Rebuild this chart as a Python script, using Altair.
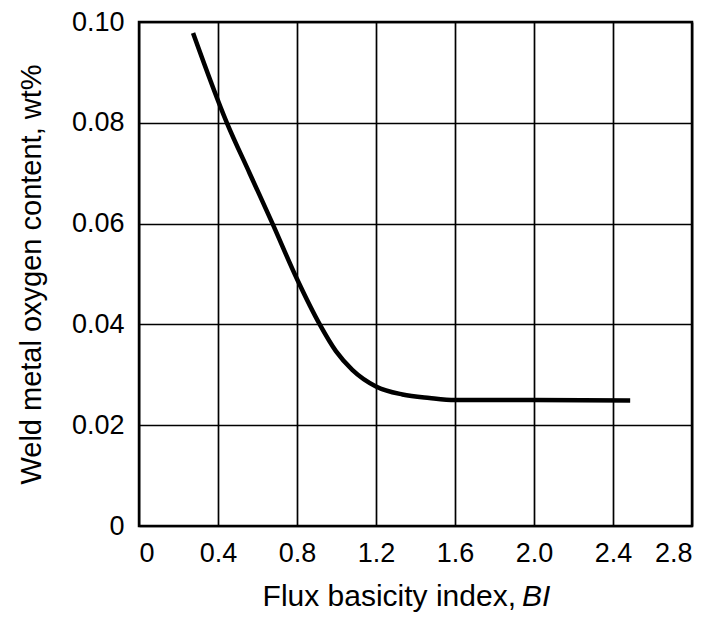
import altair as alt
import pandas as pd

# Curve
bi = [0.274, 0.445, 0.560, 0.676, 0.800, 0.915, 0.997, 1.080, 1.200, 1.334, 1.471, 1.600, 2.000, 2.487]
oxygen = [0.0978, 0.0800, 0.0700, 0.0600, 0.0490, 0.0400, 0.0347, 0.0310, 0.0277, 0.0261, 0.0254, 0.0250, 0.0250, 0.0249]

x_ticks = [0, 0.4, 0.8, 1.2, 1.6, 2.0, 2.4, 2.8]
y_ticks = [0, 0.02, 0.04, 0.06, 0.08, 0.10]

FONT = "Liberation Sans"
W, H = 553, 504

df = pd.DataFrame({"bi": bi, "oxygen": oxygen})

x_axis = alt.Axis(
    values=x_ticks,
    labelExpr="datum.value == 0 ? '0' : format(datum.value, '.1f')",
    grid=True, gridColor="black", gridWidth=1.7,
    ticks=False, domain=False,
    labelFont=FONT, labelFontSize=27, labelColor="black", labelPadding=14,
    title=None,
)
y_axis = alt.Axis(
    values=y_ticks,
    labelExpr="datum.value == 0 ? '0' : format(datum.value, '.2f')",
    grid=True, gridColor="black", gridWidth=1.7,
    ticks=False, domain=False,
    labelFont=FONT, labelFontSize=27, labelColor="black", labelPadding=15,
    title="Weld metal oxygen content, wt%",
    titleFont=FONT, titleFontSize=29, titleFontWeight="normal", titleColor="black",
    titlePadding=25,
)

line = alt.Chart(df).mark_line(color="black", strokeWidth=4.5, interpolate="monotone").encode(
    x=alt.X("bi:Q", scale=alt.Scale(domain=[0, 2.8], nice=False), axis=x_axis),
    y=alt.Y("oxygen:Q", scale=alt.Scale(domain=[0, 0.10], nice=False), axis=y_axis),
)

title_df = pd.DataFrame({"a": ["Flux basicity index,"], "b": ["BI"]})
title_main = alt.Chart(title_df).mark_text(
    font=FONT, fontSize=30, color="black", align="right", baseline="alphabetic"
).encode(text="a:N", x=alt.value(377), y=alt.value(584))
title_it = alt.Chart(title_df).mark_text(
    font=FONT, fontSize=30, color="black", align="left", baseline="alphabetic", fontStyle="italic"
).encode(text="b:N", x=alt.value(383), y=alt.value(584))

chart = alt.layer(line, title_main, title_it).properties(
    width=W, height=H,
    autosize=alt.AutoSizeParams(type="none"),
    padding={"left": 131, "top": 14, "right": 9, "bottom": 86},
).configure_view(stroke="black", strokeWidth=2.5)

chart.save("out.html", embed_options={"renderer": "svg", "actions": False})
